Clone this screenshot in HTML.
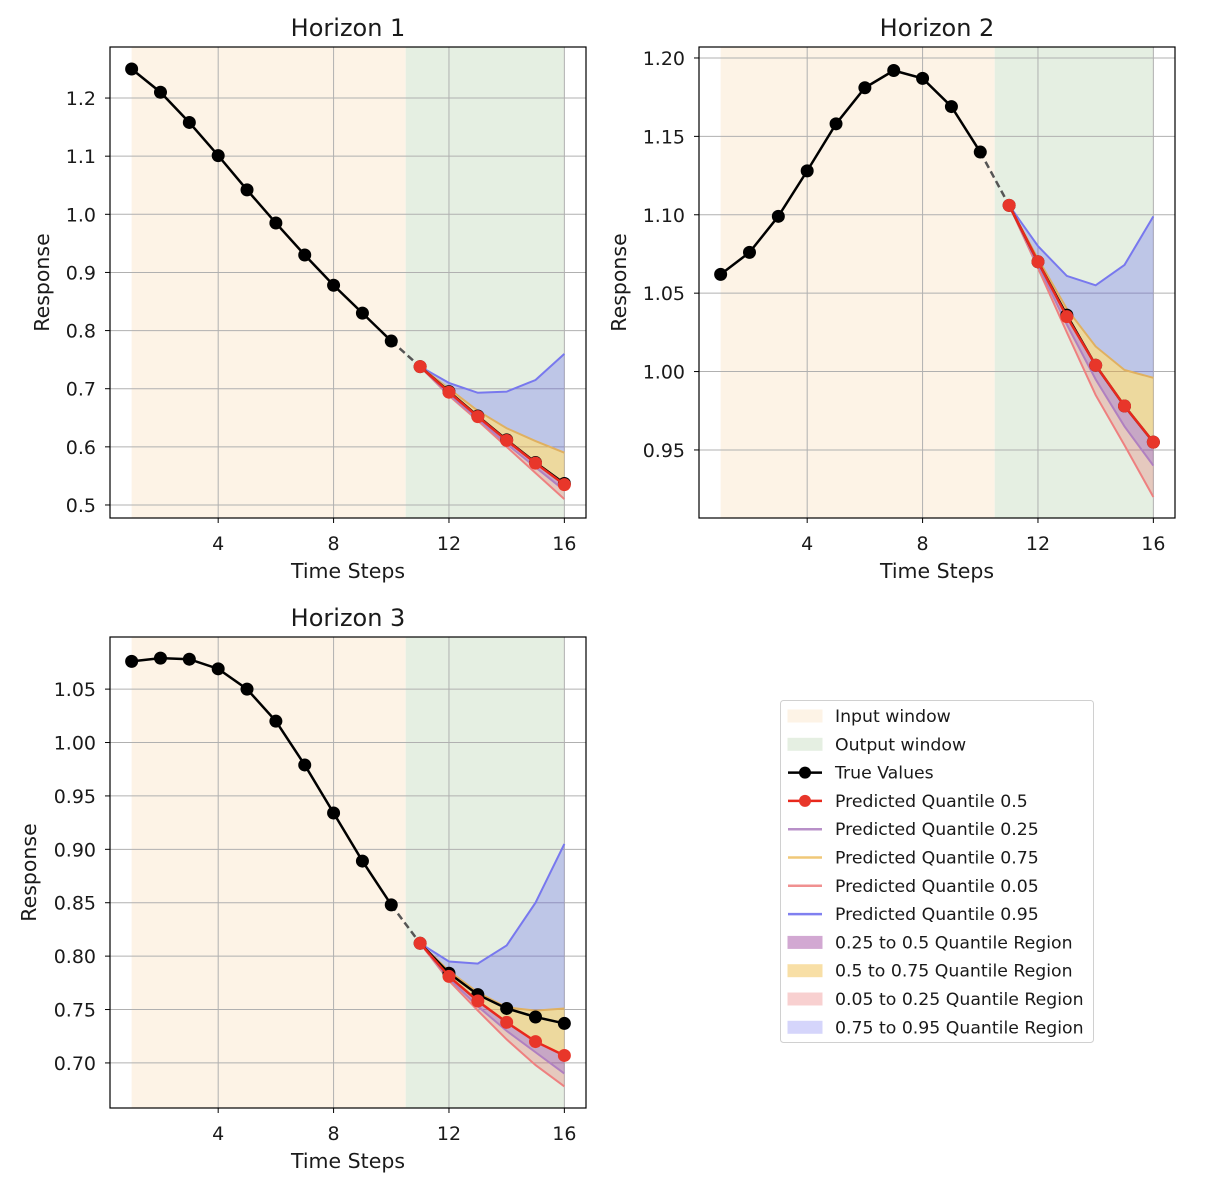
<!DOCTYPE html>
<html><head><meta charset="utf-8"><style>
body{margin:0;background:#fff;font-family:"Liberation Sans","DejaVu Sans",sans-serif;}
svg text{font-family:"DejaVu Sans","Liberation Sans",sans-serif;fill:#1a1a1a;}
</style></head><body>
<svg id="chart" width="1228" height="1196" xmlns="http://www.w3.org/2000/svg"></svg>
<script>
const xIn=[1,2,3,4,5,6,7,8,9,10];
const xOut=[11,12,13,14,15,16];
const xTicks=[4,8,12,16];
const h1True=[1.25,1.21,1.158,1.101,1.042,0.985,0.93,0.878,0.83,0.782];
const h1TrueOut=[0.738,0.695,0.653,0.612,0.573,0.537];
const h1Q50=[0.738,0.694,0.652,0.611,0.572,0.535];
const h1Q95=[0.738,0.71,0.693,0.695,0.715,0.76];
const h1Q75=[0.738,0.70,0.662,0.632,0.61,0.59];
const h1Q25=[0.738,0.69,0.648,0.605,0.565,0.525];
const h1Q05=[0.738,0.688,0.645,0.60,0.555,0.51];
const h1YTicks=[0.5,0.6,0.7,0.8,0.9,1.0,1.1,1.2];
const h2True=[1.062,1.076,1.099,1.128,1.158,1.181,1.192,1.187,1.169,1.14];
const h2TrueOut=[1.106,1.07,1.036,1.004,0.978,0.955];
const h2Q50=[1.106,1.07,1.035,1.004,0.978,0.955];
const h2Q95=[1.106,1.08,1.061,1.055,1.068,1.099];
const h2Q75=[1.106,1.072,1.04,1.016,1.001,0.996];
const h2Q25=[1.106,1.068,1.03,0.995,0.965,0.94];
const h2Q05=[1.106,1.066,1.025,0.985,0.953,0.92];
const h2YTicks=[0.95,1.00,1.05,1.10,1.15,1.20];
const h3True=[1.076,1.079,1.078,1.069,1.050,1.020,0.979,0.934,0.889,0.848];
const h3TrueOut=[0.812,0.784,0.764,0.751,0.743,0.737];
const h3Q50=[0.812,0.781,0.758,0.738,0.720,0.707];
const h3Q95=[0.812,0.795,0.793,0.81,0.85,0.905];
const h3Q75=[0.812,0.786,0.766,0.752,0.749,0.751];
const h3Q25=[0.812,0.779,0.753,0.73,0.71,0.69];
const h3Q05=[0.812,0.777,0.749,0.722,0.698,0.678];
const h3YTicks=[0.70,0.75,0.80,0.85,0.90,0.95,1.00,1.05];

const NS="http://www.w3.org/2000/svg";
const svg=document.getElementById('chart');
function mk(tag,attrs,parent){const e=document.createElementNS(NS,tag);for(const k in attrs)e.setAttribute(k,attrs[k]);(parent||svg).appendChild(e);return e;}

function panel(cfg){
  const g=mk('g',{});
  
  
  const L=cfg.left,T=cfg.top,W=476,H=471;
  const x0=0.25,x1=16.75;
  const sx=v=>L+(v-x0)/(x1-x0)*W;
  const sy=v=>T+H-(v-cfg.ymin)/(cfg.ymax-cfg.ymin)*H;
  let r=mk('rect',{x:sx(1),y:T,width:sx(10.5)-sx(1),height:H,fill:'#fdf3e6'},g);
  
  r=mk('rect',{x:sx(10.5),y:T,width:sx(16)-sx(10.5),height:H,fill:'#e5efe2'},g);
  
  xTicks.forEach(t=>{mk('line',{x1:sx(t),x2:sx(t),y1:T,y2:T+H,stroke:'#b0b0b0','stroke-width':1},g);
    mk('line',{x1:sx(t),x2:sx(t),y1:T+H,y2:T+H+5,stroke:'#000'},g);
    const tx=mk('text',{x:sx(t),y:T+H+32,'font-size':19,'text-anchor':'middle'},g);tx.textContent=t;
    });
  cfg.yt.forEach(t=>{mk('line',{x1:L,x2:L+W,y1:sy(t),y2:sy(t),stroke:'#b0b0b0','stroke-width':1},g);
    mk('line',{x1:L-5,x2:L,y1:sy(t),y2:sy(t),stroke:'#000'},g);
    const tx=mk('text',{x:L-14,y:sy(t)+7,'font-size':19,'text-anchor':'end'},g);tx.textContent=t.toFixed(cfg.dec);
    });
  const pts=(xs,ys)=>xs.map((x,i)=>sx(x)+','+sy(ys[i])).join(' ');
  const band=(a,b,fill,op,nm)=>{const p=mk('polygon',{points:pts(xOut,a)+' '+pts(xOut.slice().reverse(),b.slice().reverse()),fill:fill,'fill-opacity':op},g);
    };
  band(cfg.q75,cfg.q95,'#0000ff',0.17,'band-75-95');
  band(cfg.q50,cfg.q75,'#ffa500',0.3,'band-50-75');
  band(cfg.q05,cfg.q25,'#e83030',0.2,'band-05-25');
  band(cfg.q25,cfg.q50,'#800080',0.3,'band-25-50');
  const line=(xs,ys,col,w,nm,dash)=>{const p=mk('polyline',{points:pts(xs,ys),fill:'none',stroke:col,'stroke-width':w},g);
    if(dash)p.setAttribute('stroke-dasharray',dash);};
  line(xOut,cfg.q95,'#7878ee',2,'q95-line');
  line(xOut,cfg.q75,'#e0b060',2,'q75-line');
  line(xOut,cfg.q05,'#ee8080',2,'q05-line');
  line(xOut,cfg.q25,'#b080c0',2,'q25-line');
  line([10,11],[cfg.tr[9],cfg.trOut[0]],'#555',2.5,'connector','7,4');
  line(xIn,cfg.tr,'#000',2.5,'true-line');
  line(xOut,cfg.trOut,'#000',2.5,'true-line-out');
  xIn.forEach((x,i)=>{const c=mk('circle',{cx:sx(x),cy:sy(cfg.tr[i]),r:6.5,fill:'#000'},g);});
  xOut.forEach((x,i)=>{const c=mk('circle',{cx:sx(x),cy:sy(cfg.trOut[i]),r:6.5,fill:'#000'},g);});
  line(xOut,cfg.q50,'#e8281c',2.5,'q50-line');
  xOut.forEach((x,i)=>{const c=mk('circle',{cx:sx(x),cy:sy(cfg.q50[i]),r:6.5,fill:'#e8362a'},g);});
  mk('rect',{x:L,y:T,width:W,height:H,fill:'none',stroke:'#000','stroke-width':1.2},g);
  let t=mk('text',{x:L+W/2,y:T-11,'font-size':24,'text-anchor':'middle'},g);t.textContent=cfg.title;
  
  t=mk('text',{x:L+W/2,y:T+H+60,'font-size':20.5,'text-anchor':'middle'},g);t.textContent='Time Steps';
  
  t=mk('text',{x:0,y:0,'font-size':20.5,'text-anchor':'middle',transform:`translate(${cfg.ylx},${T+H/2}) rotate(-90)`},g);t.textContent='Response';
  
}
panel({name:'horizon-1-panel',title:'Horizon 1',left:110,top:47,ymin:0.4776,ymax:1.2878,yt:h1YTicks,dec:1,ylx:49,tr:h1True,trOut:h1TrueOut,q50:h1Q50,q95:h1Q95,q75:h1Q75,q25:h1Q25,q05:h1Q05});
panel({name:'horizon-2-panel',title:'Horizon 2',left:699,top:47,ymin:0.9066,ymax:1.207,yt:h2YTicks,dec:2,ylx:626,tr:h2True,trOut:h2TrueOut,q50:h2Q50,q95:h2Q95,q75:h2Q75,q25:h2Q25,q05:h2Q05});
panel({name:'horizon-3-panel',title:'Horizon 3',left:110,top:637,ymin:0.6578,ymax:1.0988,yt:h3YTicks,dec:2,ylx:36,tr:h3True,trOut:h3TrueOut,q50:h3Q50,q95:h3Q95,q75:h3Q75,q25:h3Q25,q05:h3Q05});

const lg=mk('g',{});

mk('rect',{x:780.5,y:700.5,width:313,height:342,rx:3,fill:'#fff',stroke:'#d0d0d0'},lg);
const entries=[
['patch','#fdf3e6','Input window'],['patch','#e5efe2','Output window'],
['mark','#000','True Values'],['mark','#e8281c','Predicted Quantile 0.5'],
['line','#b890c8','Predicted Quantile 0.25'],['line','#f0c878','Predicted Quantile 0.75'],
['line','#f09090','Predicted Quantile 0.05'],['line','#8080f0','Predicted Quantile 0.95'],
['patch','#d2a8d2','0.25 to 0.5 Quantile Region'],['patch','#f8dfa6','0.5 to 0.75 Quantile Region'],
['patch','#f8d0d0','0.05 to 0.25 Quantile Region'],['patch','#d5d5fb','0.75 to 0.95 Quantile Region']];
entries.forEach((e,i)=>{const y=716+i*28.3;
  const eg=mk('g',{},lg);
  if(e[0]==='patch')mk('rect',{x:788,y:y-6,width:34,height:12,fill:e[1],stroke:e[1]},eg);
  else{mk('line',{x1:788,x2:822,y1:y,y2:y,stroke:e[1],'stroke-width':2.5},eg);
    if(e[0]==='mark')mk('circle',{cx:805,cy:y,r:6,fill:e[1]==='#000'?'#000':'#e8362a'},eg);}
  const t=mk('text',{x:835,y:y+6,'font-size':17.3},eg);t.textContent=e[2];});
</script>
</body></html>
